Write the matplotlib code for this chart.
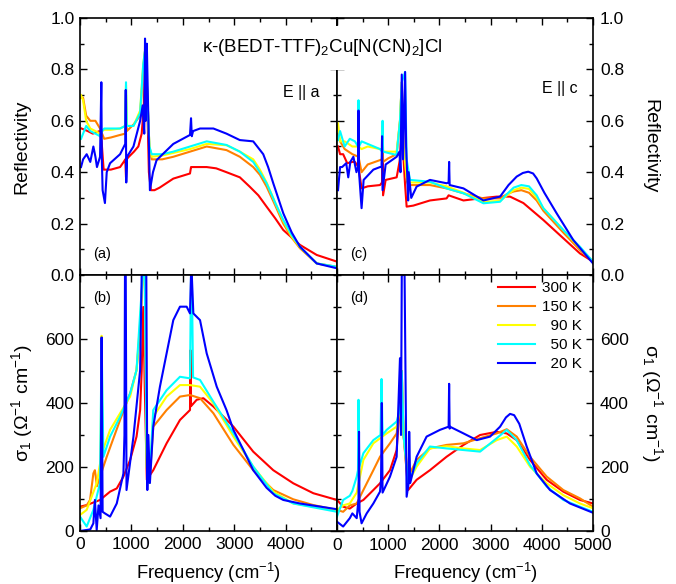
import matplotlib
matplotlib.use("Agg")
import matplotlib.pyplot as plt
from matplotlib.ticker import MultipleLocator

plt.rcParams['font.family'] = ['Liberation Sans', 'DejaVu Sans']
plt.rcParams['mathtext.fontset'] = 'custom'
plt.rcParams['mathtext.rm'] = 'Liberation Sans'
plt.rcParams['mathtext.it'] = 'Liberation Sans:italic'

temps = ['300 K', '150 K', '  90 K', '  50 K', '  20 K']
colors = ['#ff0000', '#ff8000', '#ffff00', '#00ffff', '#0000ff']

# ---- (a) reflectivity, E || a ----
a_red_f = [30, 150, 250, 380, 420, 460, 600, 780, 850, 880, 895, 905, 950, 1050, 1135, 1200, 1240,
           1270, 1300, 1340, 1380, 1450, 1550, 1815, 2140, 2160, 2180, 2465, 2650, 2850, 3110, 3300,
           3470, 3630, 3800, 3955, 4280, 4605, 5000]
a_red = [0.57, 0.56, 0.55, 0.56, 0.52, 0.41, 0.41, 0.42, 0.44, 0.45, 0.38, 0.45, 0.46, 0.48, 0.50,
         0.55, 0.65, 0.85, 0.75, 0.40, 0.33, 0.33, 0.34, 0.375, 0.395, 0.42, 0.42, 0.42, 0.415,
         0.40, 0.38, 0.344, 0.31, 0.266, 0.22, 0.175, 0.117, 0.078, 0.052]
a_f = [20, 60, 120, 200, 300, 390, 430, 470, 600, 780, 880, 895, 910, 1040, 1170, 1230, 1270, 1300,
       1350, 1395, 1600, 1815, 2140, 2465, 2850, 3110, 3370, 3500, 3630, 3800, 3955, 4120, 4280,
       4605, 5000]
a_orange = [0.69, 0.69, 0.62, 0.60, 0.60, 0.57, 0.55, 0.53, 0.535, 0.545, 0.55, 0.70, 0.56, 0.585,
            0.62, 0.80, 0.88, 0.75, 0.50, 0.45, 0.45, 0.46, 0.48, 0.50, 0.486, 0.46, 0.42, 0.39,
            0.344, 0.27, 0.20, 0.145, 0.104, 0.045, 0.032]
a_yellow = [0.70, 0.68, 0.60, 0.57, 0.56, 0.55, 0.56, 0.565, 0.565, 0.57, 0.58, 0.74, 0.58, 0.58,
            0.64, 0.82, 0.88, 0.75, 0.50, 0.46, 0.465, 0.475, 0.49, 0.51, 0.505, 0.48, 0.45, 0.41,
            0.36, 0.28, 0.21, 0.15, 0.108, 0.045, 0.03]
a_cyan = [0.53, 0.55, 0.58, 0.56, 0.55, 0.54, 0.56, 0.57, 0.57, 0.57, 0.58, 0.75, 0.58, 0.58, 0.63,
          0.82, 0.88, 0.75, 0.50, 0.47, 0.47, 0.48, 0.50, 0.52, 0.506, 0.48, 0.44, 0.40, 0.357,
          0.28, 0.214, 0.155, 0.11, 0.045, 0.032]
a_blue_f = [20, 60, 130, 200, 260, 300, 330, 390, 415, 425, 440, 485, 520, 585, 780, 880, 890, 900,
            915, 1040, 1170, 1220, 1250, 1265, 1280, 1300, 1320, 1360, 1420, 1490, 1815, 2140, 2160,
            2175, 2200, 2335, 2595, 2850, 3110, 3370, 3565, 3660, 3760, 3955, 4120, 4280, 4605, 5000]
a_blue = [0.42, 0.45, 0.47, 0.44, 0.50, 0.46, 0.42, 0.46, 0.75, 0.45, 0.33, 0.28, 0.40, 0.435, 0.47,
          0.51, 0.72, 0.36, 0.46, 0.50, 0.60, 0.66, 0.55, 0.92, 0.60, 0.90, 0.70, 0.33, 0.40, 0.447,
          0.51, 0.545, 0.61, 0.54, 0.56, 0.57, 0.57, 0.55, 0.525, 0.52, 0.47, 0.42, 0.357, 0.24,
          0.165, 0.11, 0.045, 0.026]

# ---- (c) reflectivity, E || c ----
c_red_f = [20, 60, 120, 200, 300, 350, 420, 480, 600, 840, 880, 890, 900, 950, 1165, 1230, 1265,
           1300, 1330, 1360, 1490, 1815, 2140, 2180, 2470, 2790, 3120, 3380, 3640, 4030, 4420, 4745,
           5000]
c_red = [0.50, 0.47, 0.47, 0.435, 0.44, 0.44, 0.42, 0.337, 0.345, 0.35, 0.36, 0.44, 0.31, 0.37,
         0.38, 0.45, 0.60, 0.45, 0.35, 0.266, 0.27, 0.29, 0.298, 0.31, 0.29, 0.298, 0.305, 0.305,
         0.28, 0.214, 0.143, 0.084, 0.052]
c_f = [20, 60, 150, 300, 420, 480, 600, 840, 880, 890, 900, 1000, 1165, 1230, 1265, 1300, 1360,
       1390, 1815, 2140, 2470, 2855, 3185, 3320, 3450, 3600, 3750, 3900, 4030, 4420, 4745, 5000]
c_orange = [0.55, 0.52, 0.49, 0.47, 0.46, 0.40, 0.43, 0.447, 0.45, 0.52, 0.44, 0.454, 0.47, 0.60,
            0.75, 0.50, 0.37, 0.35, 0.35, 0.337, 0.318, 0.298, 0.298, 0.315, 0.325, 0.33, 0.32,
            0.29, 0.25, 0.165, 0.097, 0.052]
c_yellow = [0.59, 0.52, 0.52, 0.50, 0.50, 0.49, 0.50, 0.49, 0.49, 0.58, 0.48, 0.48, 0.48, 0.60,
            0.75, 0.50, 0.38, 0.36, 0.36, 0.345, 0.32, 0.285, 0.288, 0.31, 0.33, 0.34, 0.335,
            0.30, 0.26, 0.175, 0.104, 0.052]
c_cyan_f = [20, 60, 150, 250, 350, 410, 420, 430, 480, 600, 840, 880, 890, 900, 1000, 1165, 1230,
            1265, 1330, 1360, 1425, 1815, 2140, 2470, 2860, 3185, 3320, 3450, 3600, 3750, 3900,
            4030, 4420, 4745, 5000]
c_cyan = [0.525, 0.56, 0.50, 0.53, 0.52, 0.50, 0.68, 0.50, 0.52, 0.51, 0.49, 0.48, 0.60, 0.48,
          0.475, 0.467, 0.60, 0.75, 0.79, 0.45, 0.37, 0.363, 0.337, 0.318, 0.279, 0.285, 0.315,
          0.34, 0.35, 0.345, 0.31, 0.26, 0.175, 0.11, 0.052]
c_blue_f = [20, 60, 100, 180, 220, 260, 320, 380, 410, 420, 430, 480, 520, 710, 840, 870, 880, 890,
            950, 1165, 1220, 1240, 1265, 1290, 1330, 1350, 1390, 1400, 1450, 1555, 1815, 2140, 2180,
            2190, 2200, 2470, 2860, 3185, 3350, 3510, 3630, 3735, 3830, 3900, 4050, 4290, 4615, 5000]
c_blue = [0.33, 0.42, 0.42, 0.435, 0.38, 0.44, 0.46, 0.40, 0.42, 0.64, 0.40, 0.26, 0.37, 0.41,
          0.42, 0.42, 0.54, 0.33, 0.43, 0.46, 0.48, 0.40, 0.78, 0.45, 0.79, 0.50, 0.29, 0.40, 0.30,
          0.344, 0.37, 0.357, 0.36, 0.44, 0.35, 0.337, 0.29, 0.305, 0.35, 0.383, 0.397, 0.402,
          0.395, 0.376, 0.32, 0.24, 0.136, 0.045]

# ---- (b) conductivity, E || a ----
b_red_f = [0, 130, 390, 585, 715, 845, 975, 1100, 1170, 1200, 1230, 1260, 1300, 1425, 1685, 1945,
           2140, 2150, 2160, 2270, 2400, 2595, 2985, 3370, 3760, 4150, 4540, 5000]
b_red = [76, 81, 97, 123, 133, 170, 222, 295, 378, 500, 700, 450, 160, 190, 274, 347, 378, 565, 390,
         410, 415, 389, 326, 248, 190, 149, 118, 97]
b_orange_f = [0, 130, 195, 260, 290, 330, 390, 520, 780, 975, 1100, 1170, 1220, 1260, 1300, 1350,
              1425, 1685, 1945, 2140, 2335, 2595, 2985, 3370, 3760, 4150, 4540, 5000]
b_orange = [71, 80, 97, 180, 190, 140, 170, 232, 347, 430, 503, 628, 800, 800, 200, 150, 326, 378,
            420, 425, 415, 368, 269, 190, 128, 99, 81, 66]
b_yellow_f = [0, 130, 325, 400, 420, 440, 585, 780, 975, 1100, 1170, 1220, 1260, 1300, 1350, 1425,
              1685, 1945, 2140, 2335, 2595, 2985, 3370, 3760, 4150, 4540, 5000]
b_yellow = [50, 66, 149, 220, 610, 250, 316, 368, 420, 503, 650, 800, 800, 200, 150, 357, 420, 456,
            456, 451, 399, 295, 201, 123, 86, 76, 66]
b_cyan_f = [0, 130, 260, 390, 420, 455, 585, 780, 975, 1100, 1170, 1220, 1260, 1300, 1350, 1425,
            1685, 1945, 2140, 2160, 2175, 2200, 2335, 2595, 2985, 3370, 3760, 4150, 4540, 5000]
b_cyan = [45, 14, 66, 150, 600, 232, 295, 357, 430, 503, 680, 800, 800, 200, 150, 378, 440, 482,
          477, 800, 800, 480, 472, 404, 305, 201, 118, 86, 74, 60]
b_blue_f = [0, 200, 260, 290, 325, 360, 400, 420, 440, 485, 585, 715, 845, 865, 875, 890, 905, 1040,
            1170, 1200, 1230, 1290, 1310, 1330, 1360, 1425, 1555, 1685, 1815, 1945, 2075, 2140,
            2160, 2175, 2205, 2335, 2465, 2660, 2850, 2985, 3180, 3370, 3630, 3800, 3955, 4280, 5000]
b_blue = [0, 5, 24, 97, 3, 80, 40, 605, 60, 55, 45, 86, 180, 300, 800, 800, 128, 295, 503, 800, 800,
          800, 128, 300, 150, 326, 451, 555, 659, 701, 701, 680, 800, 800, 680, 659, 555, 451, 378,
          316, 253, 190, 135, 110, 97, 86, 68]

# ---- (d) conductivity, E || c ----
d_f = [0, 120, 250, 385, 515, 710, 840, 1035, 1165, 1230, 1265, 1300, 1390, 1555, 1815, 2140, 2470,
       2795, 3120, 3315, 3510, 3770, 4095, 4420, 4745, 5000]
d_red = [97, 76, 70, 86, 97, 128, 149, 190, 253, 400, 450, 300, 128, 160, 190, 232, 269, 300, 310,
         305, 284, 222, 160, 123, 97, 86]
d_orange = [66, 60, 80, 86, 128, 190, 232, 274, 305, 380, 500, 300, 170, 222, 258, 269, 274, 290,
            305, 318, 295, 232, 170, 128, 102, 76]
d_yellow_f = [0, 120, 250, 385, 450, 515, 710, 970, 1165, 1230, 1265, 1300, 1390, 1555, 1815, 2140,
              2470, 2795, 3120, 3315, 3510, 3770, 4095, 4420, 4745, 5000]
d_yellow = [66, 80, 86, 120, 170, 222, 274, 305, 326, 380, 500, 300, 150, 201, 258, 265, 258, 253,
            284, 295, 264, 201, 149, 112, 86, 71]
d_cyan_f = [0, 120, 250, 300, 385, 410, 420, 435, 515, 710, 850, 870, 890, 970, 1165, 1230, 1265,
            1300, 1390, 1555, 1815, 2140, 2470, 2795, 3120, 3315, 3510, 3770, 4095, 4420, 4745, 5000]
d_cyan = [45, 97, 110, 125, 170, 190, 410, 200, 243, 284, 300, 475, 300, 316, 342, 380, 500, 300,
          150, 211, 264, 258, 253, 248, 290, 316, 284, 206, 139, 97, 76, 60]
d_blue_f = [0, 120, 250, 300, 385, 420, 430, 440, 480, 580, 710, 840, 860, 875, 890, 1035, 1165,
            1230, 1250, 1265, 1280, 1320, 1360, 1400, 1410, 1430, 1555, 1750, 2010, 2180, 2190,
            2200, 2205, 2470, 2730, 2990, 3185, 3300, 3380, 3460, 3560, 3705, 3900, 4160, 4550, 5000]
d_blue = [29, 14, 40, 55, 40, 100, 310, 60, 24, 55, 86, 123, 160, 400, 120, 170, 232, 540, 300, 800,
          800, 800, 107, 150, 310, 150, 232, 295, 316, 326, 460, 320, 326, 305, 284, 295, 326, 355,
          366, 362, 335, 264, 180, 128, 86, 57]

panels = {
    'a': [(a_red_f, a_red), (a_f, a_orange), (a_f, a_yellow), (a_f, a_cyan), (a_blue_f, a_blue)],
    'c': [(c_red_f, c_red), (c_f, c_orange), (c_f, c_yellow), (c_cyan_f, c_cyan), (c_blue_f, c_blue)],
    'b': [(b_red_f, b_red), (b_orange_f, b_orange), (b_yellow_f, b_yellow), (b_cyan_f, b_cyan),
          (b_blue_f, b_blue)],
    'd': [(d_f, d_red), (d_f, d_orange), (d_yellow_f, d_yellow), (d_cyan_f, d_cyan), (d_blue_f, d_blue)],
}

W, H = 676, 584
fig = plt.figure(figsize=(W / 100, H / 100), dpi=100)


def px_axes(x0, y0, x1, y1):
    # axes box given in pixel coords of the 676x584 picture
    return fig.add_axes([x0 / W, 1 - y1 / H, (x1 - x0) / W, (y1 - y0) / H])


ax_a = px_axes(80, 18, 337, 275)
ax_c = px_axes(337, 18, 593, 275)
ax_b = px_axes(80, 275, 337, 531)
ax_d = px_axes(337, 275, 593, 531)

for key, ax in [('a', ax_a), ('c', ax_c), ('b', ax_b), ('d', ax_d)]:
    for (f, v), col, lab in zip(panels[key], colors, temps):
        ax.plot(f, v, color=col, lw=1.5, label=lab)
    ax.set_xlim(0, 5000)
    ax.xaxis.set_minor_locator(MultipleLocator(500))
    ax.tick_params(which='both', direction='in', top=True, right=True, width=1.0,
                   labelsize=12.5, pad=4)
    ax.tick_params(which='major', length=5)
    ax.tick_params(which='minor', length=3)
    for sp in ax.spines.values():
        sp.set_linewidth(1.2)

for ax in (ax_a, ax_c):
    ax.set_ylim(0, 1.0)
    ax.set_yticks([0, 0.2, 0.4, 0.6, 0.8, 1.0])
    ax.set_yticklabels(['0.0', '0.2', '0.4', '0.6', '0.8', '1.0'])
    ax.yaxis.set_minor_locator(MultipleLocator(0.1))
    ax.set_xticks([0, 1000, 2000, 3000, 4000, 5000])
    ax.tick_params(labelbottom=False)

for ax in (ax_b, ax_d):
    ax.set_ylim(0, 800)
    ax.set_yticks([0, 200, 400, 600])
    ax.yaxis.set_minor_locator(MultipleLocator(100))
    ax.set_xlabel('Frequency (cm$^{-1}$)', fontsize=13.2)
    ax.xaxis.set_label_coords(0.5, -0.118)

ax_b.set_xticks([0, 1000, 2000, 3000, 4000])
ax_d.set_xticks([0, 1000, 2000, 3000, 4000, 5000])

for ax in (ax_c, ax_d):
    ax.tick_params(labelleft=False, labelright=True, pad=5)
    ax.yaxis.set_label_position('right')

ax_a.set_ylabel('Reflectivity', fontsize=14)
ax_a.yaxis.set_label_coords(-0.195, 0.5)
ax_c.set_ylabel('Reflectivity', fontsize=14, rotation=270, va='bottom')
ax_c.yaxis.set_label_coords(1.19, 0.5)
ax_b.set_ylabel('σ$_1$ (Ω$^{-1}$ cm$^{-1}$)', fontsize=14)
ax_b.yaxis.set_label_coords(-0.175, 0.5)
ax_d.set_ylabel('σ$_1$ (Ω$^{-1}$ cm$^{-1}$)', fontsize=14, rotation=270, va='bottom')
ax_d.yaxis.set_label_coords(1.18, 0.5)

ax_a.text(0.86, 0.71, 'E || a', transform=ax_a.transAxes, fontsize=11.5, ha='center', va='center')
ax_c.text(0.87, 0.725, 'E || c', transform=ax_c.transAxes, fontsize=11.5, ha='center', va='center')
for ax, lab, y in [(ax_a, '(a)', 0.08), (ax_c, '(c)', 0.08), (ax_b, '(b)', 0.91), (ax_d, '(d)', 0.91)]:
    ax.text(0.05, y, lab, transform=ax.transAxes, fontsize=10.5, ha='left', va='center')

ax_d.legend(loc='upper right', bbox_to_anchor=(0.958, 0.975), frameon=False, fontsize=11,
            handlelength=2.4, handletextpad=0.5, labelspacing=0.32, borderpad=0, borderaxespad=0)

fig.text(322 / W, 1 - 48 / H, 'κ-(BEDT-TTF)$_2$Cu[N(CN)$_2$]Cl', fontsize=13.5, ha='center',
         va='center', zorder=10,
         bbox=dict(facecolor='white', edgecolor='none', pad=8))

fig.savefig('out.png', dpi=100)
